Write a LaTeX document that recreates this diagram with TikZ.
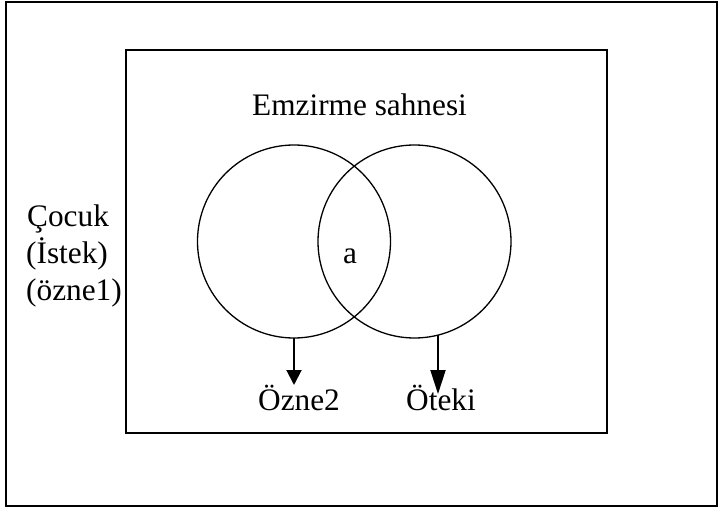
\documentclass[tikz,border=0pt]{standalone}
\usepackage{fontspec}
\setmainfont{Liberation Serif}
\usetikzlibrary{arrows.meta}
\begin{document}
\begin{tikzpicture}[x=1pt,y=-1pt,
  frame/.style={draw=black,line width=2pt},
  ring/.style={draw=black,line width=1.3pt,circle,inner sep=0pt,minimum size=193pt},
  lbl/.style={inner sep=0pt,anchor=base west,font=\fontsize{31.3}{37.5}\selectfont},
  arr/.style={line width=2pt}]
\useasboundingbox (0,0) rectangle (718,508);
\draw[frame] (6,2) rectangle (716.5,506);
\draw[frame] (126,50) rectangle (607,433);
\node[ring] (c1) at (294,241.5) {};
\node[ring] (c2) at (414.5,241.5) {};
\node[lbl] (title) at (252,116) {Emzirme sahnesi};
\node[lbl] (cocuk) at (27,226) {Çocuk};
\node[lbl] (istek) at (26,263) {(İstek)};
\node[lbl] (ozne1) at (26,300) {(özne1)};
\node[lbl] (a) at (343,263) {a};
\node[lbl] (ozne2) at (258,410) {Özne2};
\node[lbl] (oteki) at (406,410) {Öteki};
\coordinate (s1) at (294,338);
\coordinate (e1) at (294,385);
\coordinate (s2) at (438,335);
\coordinate (e2) at (438,394);
\draw[arr,-{Triangle[width=15pt,length=15pt]}] (s1) -- (e1);
\draw[arr,-{Triangle[width=15pt,length=24pt]}] (s2) -- (e2);
\end{tikzpicture}
\end{document}
